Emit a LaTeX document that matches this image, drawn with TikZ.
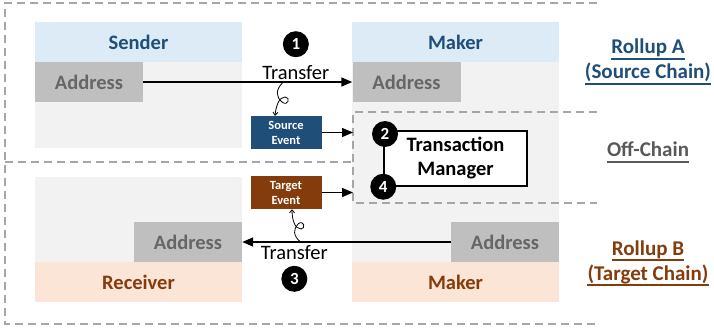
\documentclass[tikz,border=0pt]{standalone}
\usepackage{fontspec}
\setmainfont{Carlito}
\usetikzlibrary{arrows.meta,calc,positioning}
\definecolor{hdblue}{HTML}{DDEBF7}
\definecolor{hdorange}{HTML}{FBE5D6}
\definecolor{bodygray}{HTML}{F2F2F2}
\definecolor{addrgray}{HTML}{BFBFBF}
\definecolor{addrtext}{HTML}{666666}
\definecolor{chainblue}{HTML}{1F4E79}
\definecolor{chainbrown}{HTML}{843C0C}
\definecolor{dashgray}{HTML}{A6A6A6}
\definecolor{offtext}{HTML}{595959}
\newcommand{\labfont}{\fontsize{20.5}{24}\selectfont}

\begin{document}
\begin{tikzpicture}[x=1pt,y=-1pt,>={Triangle[length=11pt,width=9pt]},
  every node/.style={inner sep=0pt,font=\labfont},
  body/.style={fill=bodygray,minimum width=207pt},
  header/.style={minimum width=207pt,minimum height=40pt,font=\labfont\bfseries},
  addr/.style={fill=addrgray,text=addrtext,minimum width=108pt,minimum height=40pt,font=\labfont\bfseries},
  event/.style={minimum width=71pt,minimum height=33pt,text=white,align=center,
    font=\fontsize{12.5}{15}\selectfont\bfseries},
  numdot/.style={circle,fill=black,text=white,minimum size=26pt,font=\fontsize{17}{17}\selectfont\bfseries},
  chain/.style={anchor=base,text=#1,font=\fontsize{21}{26}\selectfont\bfseries},
  region/.style={draw=dashgray,line width=1.5pt,dash pattern=on 8pt off 5pt},
  flow/.style={->,line width=1.4pt},
  curl/.style={-{Straight Barb[length=3pt,width=5pt]},line width=0.8pt}]
  \useasboundingbox (0,0) rectangle (714,331);

  % columns of the two rollups
  \node[body,minimum height=86pt]  (SendBody)  at (138.5,105)   {};
  \node[body,minimum height=200pt] (MakerBody) at (455.5,162)   {};
  \node[body,minimum height=85pt]  (RecvBody)  at (138.5,219.5) {};

  \node[header,fill=hdblue,text=chainblue]    (Sender)   at (138.5,42.5) {Sender};
  \node[header,fill=hdblue,text=chainblue]    (MakerA)   at (455.5,42.5) {Maker};
  \node[header,fill=hdorange,text=chainbrown] (Receiver) at (138.5,282)  {Receiver};
  \node[header,fill=hdorange,text=chainbrown] (MakerB)   at (455.5,282)  {Maker};

  \node[addr] (SendAddr)   at (89,82)    {Address};
  \node[addr] (MakerAddrA) at (406.5,82) {Address};
  \node[addr] (RecvAddr)   at (188,242)  {Address};
  \node[addr] (MakerAddrB) at (505,242)  {Address};

  % dashed borders of the chains
  \coordinate (OffNW) at (353,112);
  \coordinate (OffSW) at (353,203);
  \draw[region] (597,3) -- (5,3) -- (5,324) -- (597,324);
  \draw[region] (5,162) -- (353,162);
  \draw[region] (597,112) -- (OffNW) -- (OffSW) -- (597,203);

  % off-chain manager
  \node[draw,line width=1.5pt,fill=white,minimum width=143pt,minimum height=55pt,
    align=center,font=\fontsize{20.5}{24}\selectfont\bfseries] (TM) at (455.5,158.5) {Transaction\\Manager};
  \node[numdot] (n2) at (385,134) {2};
  \node[numdot] (n4) at (TM.south west) {4};

  \node[event,fill=chainblue]  (SrcEv) at (286,132.5) {Source\\Event};
  \node[event,fill=chainbrown] (TgtEv) at (286,192.5) {Target\\Event};

  % transfers
  \draw[flow] (SendAddr.east) -- coordinate[pos=0.67] (c1)
    node[pos=0.73,above=2pt] (T1) {Transfer} (MakerAddrA.west);
  \draw[flow] (MakerAddrB.west) -- coordinate[pos=0.72] (c3)
    node[pos=0.75,below=3pt] (T3) {Transfer} (RecvAddr.east);
  \node[numdot,above=7pt of T1] (n1) {1};
  \node[numdot,below=5pt of T3] (n3) {3};

  \draw[flow] (SrcEv.east) -- (SrcEv.east -| OffNW);
  \draw[flow] (TgtEv.east) -- (TgtEv.east -| OffSW);

  % emitted events
  \draw[curl] (c1) .. controls (275,90) and (276,97) .. (282,102)
    .. controls (288,107) and (291,97) .. (285,97)
    .. controls (279,97) and (276,106) .. ($(SrcEv.north)+(-11,0)$);
  \draw[curl] (c3) .. controls (293,236) and (293,229) .. (298,224)
    .. controls (304,219) and (306,229) .. (301,229)
    .. controls (295,229) and (292,220) .. ($(TgtEv.south)+(6,0)$);

  % chain labels, underlined
  \node[chain=chainblue]  (RollA)  at (648,54)  {Rollup A};
  \node[chain=chainblue]  (SrcCh)  at (648,79)  {(Source Chain)};
  \node[chain=offtext]    (Off)    at (648,157) {Off-Chain};
  \node[chain=chainbrown] (RollB)  at (648,255) {Rollup B};
  \node[chain=chainbrown] (TgtCh)  at (648,280) {(Target Chain)};
  \foreach \lab/\col in {RollA/chainblue,SrcCh/chainblue,Off/offtext,RollB/chainbrown,TgtCh/chainbrown}
    \fill[\col] ($(\lab.base west)+(0,4)$) rectangle ($(\lab.base east)+(0,6)$);
\end{tikzpicture}
\end{document}
